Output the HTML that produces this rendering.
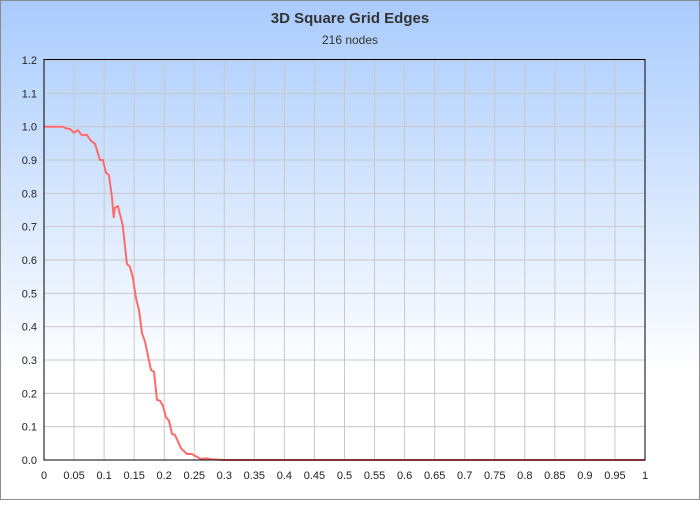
<!DOCTYPE html>
<html><head><meta charset="utf-8"><style>
html,body{margin:0;padding:0}
body{width:700px;height:500px;overflow:hidden;font-family:"Liberation Sans",sans-serif}
</style></head><body>
<svg width="700" height="500">
<defs><linearGradient id="bg" x1="0" y1="0" x2="0" y2="1">
<stop offset="0" stop-color="#a9cbfd"/><stop offset="0.75" stop-color="#ffffff"/><stop offset="1" stop-color="#ffffff"/></linearGradient></defs>
<rect x="0.5" y="0.5" width="699" height="499" fill="url(#bg)" stroke="#8c8c8c"/>
<text x="350" y="23" text-anchor="middle" font-size="15" font-weight="bold" fill="#333">3D Square Grid Edges</text>
<text x="350" y="44" text-anchor="middle" font-size="12" fill="#333">216 nodes</text>
<g id="grid"></g><g id="ticks"></g>
<path id="line" fill="none" stroke="#ff6b6b" stroke-width="2" stroke-linejoin="round"/>
<rect x="44" y="59.5" width="601" height="400.5" fill="none" stroke="#000" stroke-width="1"/>
</svg>
<script>
const xs=[0,0.0316,0.0365,0.043,0.05,0.056,0.063,0.071,0.078,0.085,0.093,0.098,0.103,0.108,0.113,0.116,0.118,0.123,0.131,0.138,0.143,0.148,0.153,0.158,0.163,0.168,0.178,0.183,0.188,0.193,0.198,0.203,0.208,0.213,0.218,0.228,0.238,0.246,0.261,0.271,0.277,0.3,1];
const ys=[1,1,0.995,0.993,0.982,0.99,0.974,0.976,0.958,0.948,0.9,0.9,0.862,0.855,0.79,0.728,0.756,0.762,0.705,0.588,0.58,0.546,0.485,0.45,0.38,0.355,0.27,0.265,0.18,0.178,0.162,0.128,0.118,0.078,0.075,0.035,0.018,0.018,0.003,0.005,0.002,0,0];
const xTicks=[0,0.05,0.1,0.15,0.2,0.25,0.3,0.35,0.4,0.45,0.5,0.55,0.6,0.65,0.7,0.75,0.8,0.85,0.9,0.95,1];
const yTicks=[0,0.1,0.2,0.3,0.4,0.5,0.6,0.7,0.8,0.9,1.0,1.1,1.2];
const NS="http://www.w3.org/2000/svg";
const X=v=>44+v*601, Y=v=>460-v*400/1.2;
const g=document.getElementById('grid'),t=document.getElementById('ticks');
function mk(tag,attrs,parent){const e=document.createElementNS(NS,tag);for(const k in attrs)e.setAttribute(k,attrs[k]);parent.appendChild(e);return e;}
xTicks.forEach(v=>{
 const l=mk('line',{x1:X(v),x2:X(v),y1:59,y2:460,stroke:'#c8c8c8'},g);
 
 
 const tx=mk('text',{x:X(v),y:479,'text-anchor':'middle','font-size':11,fill:'#222'},t);
 tx.textContent=String(v);
 
 
});
yTicks.forEach(v=>{
 const l=mk('line',{x1:44,x2:645,y1:Y(v),y2:Y(v),stroke:'#c8c8c8'},g);
 
 
 const tx=mk('text',{x:37,y:Y(v)+4,'text-anchor':'end','font-size':11,fill:'#222'},t);
 tx.textContent=v.toFixed(1);
 
 
});
document.getElementById('line').setAttribute('d',xs.map((x,i)=>(i?'L':'M')+X(x).toFixed(1)+' '+Y(ys[i]).toFixed(1)).join(' '));
</script>
</body></html>
